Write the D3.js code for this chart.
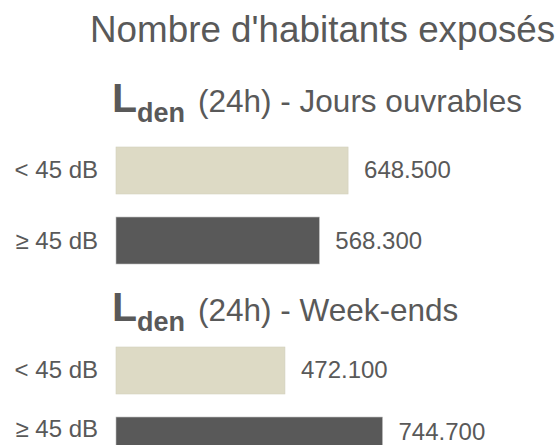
<!DOCTYPE html>
<html>
<head>
<meta charset="utf-8">
<script src="https://cdn.jsdelivr.net/npm/d3@7"></script>
<style>
  body { margin: 0; background: #fff; }
  svg { display: block; font-family: 'Liberation Sans', Arial, sans-serif; }
</style>
</head>
<body>
<svg id="chart" width="560" height="445"></svg>
<script>
// data
const title = "Nombre d'habitants exposés"
const groups = ['Jours ouvrables', 'Week-ends']
const categories = ['< 45 dB', '≥ 45 dB']
const joursValues = [648500, 568300]
const weekendValues = [472100, 744700]
const barColors = ['#dddac5', '#595959']

const svg = d3.select('#chart')
const textColor = '#595959'

const fr = d3.formatLocale({ decimal: ',', thousands: '.', grouping: [3], currency: ['', ' €'] })
const fmt = fr.format(',')

// horizontal scale, bars start at x=116
const x = d3.scaleLinear()
  .domain([0, 744700])
  .range([116, 116 + 266.5])

svg.append('text')
  .attr('x', 90)
  .attr('y', 42)
  .attr('font-size', 36.8)
  .attr('fill', textColor)
  .text(title)

const panels = [
  { name: groups[0], values: joursValues, subY: 112, top: 147 },
  { name: groups[1], values: weekendValues, subY: 321, top: 347 }
]

panels.forEach(p => {
  const sub = svg.append('text')
    .attr('x', 112)
    .attr('y', p.subY)
    .attr('fill', textColor)
  sub.append('tspan')
    .attr('font-size', 41)
    .attr('font-weight', 'bold')
    .text('L')
  sub.append('tspan')
    .attr('font-size', 27)
    .attr('font-weight', 'bold')
    .attr('dy', 10)
    .text('den')
  sub.append('tspan')
    .attr('font-size', 31.5)
    .attr('dy', -10)
    .attr('dx', 13)
    .text('(24h) - ' + p.name)

  const y = d3.scaleBand()
    .domain(categories)
    .range([p.top, p.top + 117])
    .paddingInner(0.329)

  const rows = categories.map((c, i) => ({ cat: c, value: p.values[i], color: barColors[i] }))
  // keep labels of the last row inside the picture
  const labelY = d => Math.min(y(d.cat) + y.bandwidth() / 2 + 8, 437)

  const g = svg.append('g')

  g.selectAll('rect')
    .data(rows)
    .enter()
    .append('rect')
    .attr('x', x(0))
    .attr('y', d => y(d.cat))
    .attr('width', d => x(d.value) - x(0))
    .attr('height', y.bandwidth())
    .attr('fill', d => d.color)
    .attr('stroke', (d, i) => i === 0 ? '#d2cfbd' : '#bdbdbd')
    .attr('stroke-width', 0.6)

  g.selectAll('.cat')
    .data(rows)
    .enter()
    .append('text')
    .attr('class', 'cat')
    .attr('x', 98)
    .attr('y', labelY)
    .attr('text-anchor', 'end')
    .attr('font-size', 24)
    .attr('fill', textColor)
    .text(d => d.cat)

  g.selectAll('.val')
    .data(rows)
    .enter()
    .append('text')
    .attr('class', 'val')
    .attr('x', d => x(d.value) + 16)
    .attr('y', d => labelY(d) + (d.cat === categories[1] && p.top > 300 ? 3 : 0))
    .attr('font-size', 24)
    .attr('fill', textColor)
    .text(d => fmt(d.value))
})
</script>
</body>
</html>
